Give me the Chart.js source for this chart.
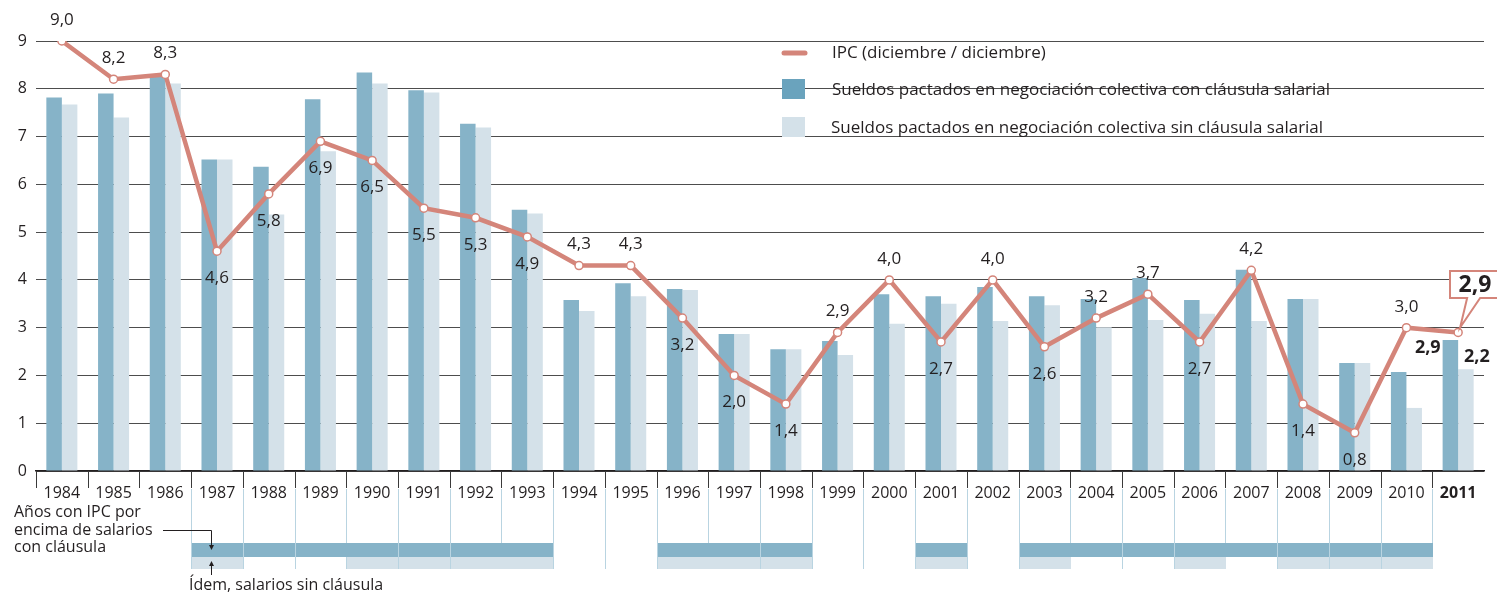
<!DOCTYPE html>
<html>
<head>
<meta charset="utf-8">
<script src="https://cdn.jsdelivr.net/npm/chart.js@4.4.0/dist/chart.umd.min.js"></script>
<style>
  body { margin: 0; background: #fff; }
  canvas { display: block; }
</style>
</head>
<body>
<canvas id="ipcChart" width="1497" height="594"></canvas>
<script>
// data
var years = ['1984', '1985', '1986', '1987', '1988', '1989', '1990', '1991', '1992', '1993',
  '1994', '1995', '1996', '1997', '1998', '1999', '2000', '2001', '2002', '2003',
  '2004', '2005', '2006', '2007', '2008', '2009', '2010', '2011'];
var ipc = [9.0, 8.2, 8.3, 4.6, 5.8, 6.9, 6.5, 5.5, 5.3, 4.9, 4.3, 4.3, 3.2, 2.0, 1.4,
  2.9, 4.0, 2.7, 4.0, 2.6, 3.2, 3.7, 2.7, 4.2, 1.4, 0.8, 3.0, 2.9];
var conClausula = [7.82, 7.9, 8.25, 6.52, 6.37, 7.78, 8.34, 7.97, 7.27, 5.47, 3.58, 3.93,
  3.81, 2.87, 2.55, 2.72, 3.70, 3.66, 3.85, 3.66, 3.60, 4.04, 3.58, 4.21, 3.60, 2.26, 2.07, 2.74];
var sinClausula = [7.67, 7.4, 8.11, 6.52, 5.37, 6.69, 8.11, 7.92, 7.19, 5.39, 3.35, 3.66,
  3.79, 2.87, 2.55, 2.43, 3.08, 3.50, 3.14, 3.47, 3.01, 3.16, 3.29, 3.14, 3.60, 2.26, 1.32, 2.13];
// years with IPC above wages (1 = yes)
var ipcSobreCon = [0, 0, 0, 1, 1, 1, 1, 1, 1, 1, 0, 0, 1, 1, 1, 0, 0, 1, 0, 1, 1, 1, 1, 1, 1, 1, 1, 0];
var ipcSobreSin = [0, 0, 0, 1, 0, 0, 1, 1, 1, 1, 0, 0, 1, 1, 1, 0, 0, 1, 0, 1, 0, 0, 1, 0, 1, 1, 1, 0];
var labels2011 = ['2,9', '2,2'];
var yTicks = [0, 1, 2, 3, 4, 5, 6, 7, 8, 9];

var lineColor = '#d4857a';
var darkBar = '#86b3c8';
var lightBar = '#d4e1e9';
var textColor = '#231f20';
var font = '"Open Sans", "Noto Sans", sans-serif';

// which side of the point each IPC label goes ('a' above, 'b' below, '' none)
var labelSide = ['a', 'a', 'a', 'b', 'b', 'b', 'b', 'b', 'b', 'b', 'a', 'a', 'b', 'b', 'b',
  'a', 'a', 'b', 'a', 'b', 'a', 'a', 'b', 'a', 'b', 'b', 'a', ''];

function fmt(v) {
  return v.toFixed(1).replace('.', ',');
}

var overlay = {
  id: 'overlay',
  afterDatasetsDraw: function (chart) {
    var ctx = chart.ctx;
    ctx.save();
    ctx.fillStyle = textColor;
    ctx.textAlign = 'center';
    ctx.textBaseline = 'middle';
    ctx.font = '17px ' + font;
    var pts = chart.getDatasetMeta(0).data;
    pts.forEach(function (p, i) {
      if (labelSide[i] === 'a') ctx.fillText(fmt(ipc[i]), p.x, p.y - 21);
      if (labelSide[i] === 'b') ctx.fillText(fmt(ipc[i]), p.x, p.y + 27);
    });

    // bold labels on the 2011 bars
    var last = years.length - 1;
    var bDark = chart.getDatasetMeta(1).data[last];
    var bLight = chart.getDatasetMeta(2).data[last];
    ctx.font = 'bold 18px ' + font;
    ctx.textAlign = 'right';
    ctx.fillText(labels2011[0], bDark.x - bDark.width / 2 - 2, bDark.y + 8);
    ctx.textAlign = 'center';
    ctx.fillText(labels2011[1], bLight.x + 11, bLight.y - 12);

    // callout for the 2011 IPC
    var p = pts[last];
    var bx = 1450, by = 271, bw = 52, bh = 27;
    ctx.strokeStyle = lineColor;
    ctx.lineWidth = 2;
    ctx.fillStyle = '#fff';
    ctx.beginPath();
    ctx.moveTo(bx, by);
    ctx.lineTo(bx + bw, by);
    ctx.lineTo(bx + bw, by + bh);
    ctx.lineTo(p.x + 22, by + bh);
    ctx.lineTo(p.x + 2, p.y - 5);
    ctx.lineTo(p.x + 9, by + bh);
    ctx.lineTo(bx, by + bh);
    ctx.closePath();
    ctx.fill();
    ctx.stroke();
    ctx.fillStyle = textColor;
    ctx.font = 'bold 23px ' + font;
    ctx.fillText(fmt(ipc[last]), bx + 25, by + 14);
    ctx.restore();
  },
  afterDraw: function (chart) {
    var ctx = chart.ctx;
    var x = chart.scales.x;
    var area = chart.chartArea;
    var step = x.getPixelForValue(1) - x.getPixelForValue(0);
    ctx.save();

    // tick separators under the axis and light guide lines
    for (var i = 0; i < years.length; i++) {
      var left = Math.round(x.getPixelForValue(i) - step / 2) + 0.5;
      ctx.strokeStyle = '#3a3a3a';
      ctx.lineWidth = 1;
      ctx.beginPath();
      ctx.moveTo(left, area.bottom);
      ctx.lineTo(left, area.bottom + 17);
      ctx.stroke();
      if (i >= 3) {
        ctx.strokeStyle = '#b9d4e1';
        ctx.beginPath();
        ctx.moveTo(left, area.bottom + 18);
        ctx.lineTo(left, 569);
        ctx.stroke();
      }
    }

    // bands
    for (var j = 0; j < years.length; j++) {
      var l = Math.round(x.getPixelForValue(j) - step / 2) + 1;
      var w = Math.round(step) - 1;
      if (ipcSobreCon[j]) {
        ctx.fillStyle = darkBar;
        ctx.fillRect(l, 543, w, 14);
      }
      if (ipcSobreSin[j]) {
        ctx.fillStyle = lightBar;
        ctx.fillRect(l, 557, w, 12);
      }
    }

    // annotation texts
    ctx.fillStyle = textColor;
    ctx.textAlign = 'left';
    ctx.textBaseline = 'middle';
    ctx.font = '16px ' + font;
    ctx.fillText('Años con IPC por', 14, 512);
    ctx.fillText('encima de salarios', 14, 530);
    ctx.fillText('con cláusula', 14, 547);
    ctx.fillText('Ídem, salarios sin cláusula', 189, 585);

    ctx.strokeStyle = textColor;
    ctx.lineWidth = 1;
    ctx.beginPath();
    ctx.moveTo(163, 530.5);
    ctx.lineTo(211.5, 530.5);
    ctx.lineTo(211.5, 547);
    ctx.moveTo(211.5, 575);
    ctx.lineTo(211.5, 564);
    ctx.stroke();
    ctx.fillStyle = textColor;
    ctx.beginPath();
    ctx.moveTo(209, 545); ctx.lineTo(214, 545); ctx.lineTo(211.5, 550); ctx.closePath();
    ctx.moveTo(209, 566); ctx.lineTo(214, 566); ctx.lineTo(211.5, 561); ctx.closePath();
    ctx.fill();

    // legend
    ctx.strokeStyle = lineColor;
    ctx.lineWidth = 5;
    ctx.lineCap = 'round';
    ctx.beginPath();
    ctx.moveTo(784, 53);
    ctx.lineTo(805, 53);
    ctx.stroke();
    ctx.fillStyle = '#6aa3bd';
    ctx.fillRect(782, 79, 23, 20);
    ctx.fillStyle = lightBar;
    ctx.fillRect(782, 117, 23, 20);
    ctx.fillStyle = textColor;
    ctx.font = '17px ' + font;
    ctx.fillText('IPC (diciembre / diciembre)', 832, 53);
    ctx.fillText('Sueldos pactados en negociación colectiva con cláusula salarial', 832, 90);
    ctx.fillText('Sueldos pactados en negociación colectiva sin cláusula salarial', 831, 128);
    ctx.restore();
  }
};

new Chart(document.getElementById('ipcChart'), {
  type: 'bar',
  data: {
    labels: years,
    datasets: [{
      type: 'line',
      label: 'IPC (diciembre/diciembre)',
      data: ipc,
      order: 0,
      borderColor: lineColor,
      borderWidth: 4.5,
      tension: 0,
      fill: false,
      pointRadius: 4,
      pointBackgroundColor: '#fff',
      pointBorderColor: lineColor,
      pointBorderWidth: 1.5
    }, {
      label: 'Sueldos pactados en negociación colectiva con cláusula salarial',
      data: conClausula,
      order: 1,
      backgroundColor: darkBar,
      barPercentage: 1,
      categoryPercentage: 0.6
    }, {
      label: 'Sueldos pactados en negociación colectiva sin cláusula salarial',
      data: sinClausula,
      order: 2,
      backgroundColor: lightBar,
      barPercentage: 1,
      categoryPercentage: 0.6
    }]
  },
  options: {
    responsive: false,
    animation: false,
    layout: { padding: { top: 41, right: 13, bottom: 0, left: 0 } },
    plugins: {
      legend: { display: false },
      tooltip: { enabled: false }
    },
    scales: {
      x: {
        afterFit: function (s) { s.height = 123; },
        grid: { display: false },
        border: { display: true, color: textColor, width: 1.5 },
        ticks: {
          padding: 5,
          color: textColor,
          maxRotation: 0,
          autoSkip: false,
          font: function (c) {
            return { family: font, size: 16, weight: c.index === years.length - 1 ? 'bold' : 'normal' };
          }
        }
      },
      y: {
        min: 0,
        max: 9,
        afterFit: function (s) { s.width = 36; },
        afterBuildTicks: function (s) { s.ticks = yTicks.map(function (v) { return { value: v }; }); },
        border: { display: false },
        grid: { color: '#4d4d4d', lineWidth: 1, drawTicks: false },
        ticks: { padding: 9, color: textColor, font: { family: font, size: 16 } }
      }
    }
  },
  plugins: [overlay]
});
</script>
</body>
</html>
